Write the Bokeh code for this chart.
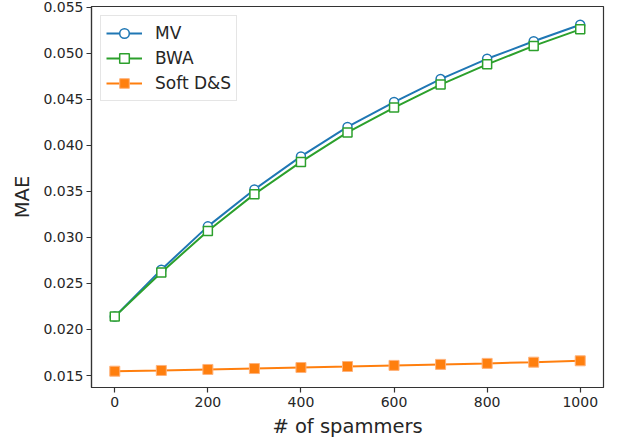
from bokeh.plotting import figure
from bokeh.models import Range1d, FixedTicker, NumeralTickFormatter
from bokeh.embed import file_html
from bokeh.resources import INLINE

spammers = [0, 100, 200, 300, 400, 500, 600, 700, 800, 900, 1000]
mv = [0.0214, 0.0265, 0.0312, 0.0352, 0.0388, 0.0420, 0.0447, 0.0472, 0.0494, 0.0513, 0.0531]
bwa = [0.0214, 0.0262, 0.0307, 0.0347, 0.0382, 0.0414, 0.0441, 0.0466, 0.0488, 0.0508, 0.0526]
soft_ds = [0.01547, 0.01555, 0.01566, 0.01576, 0.01587, 0.01598, 0.01610, 0.01621, 0.01632, 0.01645, 0.01660]
x_ticks = [0, 200, 400, 600, 800, 1000]
y_ticks = [0.015, 0.020, 0.025, 0.030, 0.035, 0.040, 0.045, 0.050, 0.055]

FONT = "DejaVu Sans"
TXT = "#262626"

p = figure(width=620, height=444, output_backend="svg", toolbar_location=None,
           x_range=Range1d(-50, 1050), y_range=Range1d(0.0137, 0.05508),
           min_border_left=91, min_border_right=17, min_border_top=6, min_border_bottom=57)

p.line(spammers, mv, color="#1f77b4", line_width=2, legend_label="MV")
p.scatter(spammers, mv, marker="circle", size=9, line_color="#1f77b4", fill_color="white",
          line_width=1.5, legend_label="MV")
p.line(spammers, bwa, color="#2ca02c", line_width=2, legend_label="BWA")
p.scatter(spammers, bwa, marker="square", size=9, line_color="#2ca02c", fill_color="white",
          line_width=1.5, legend_label="BWA")
p.line(spammers, soft_ds, color="#ff7f0e", line_width=2, legend_label="Soft D&S")
p.scatter(spammers, soft_ds, marker="square", size=10, line_color="#ffb27a", fill_color="#ff7f0e",
          line_width=1, legend_label="Soft D&S")

p.xgrid.visible = False
p.ygrid.visible = False
p.outline_line_color = "#333333"
p.outline_line_width = 1.2

p.xaxis.ticker = FixedTicker(ticks=x_ticks)
p.yaxis.ticker = FixedTicker(ticks=y_ticks)
p.yaxis.formatter = NumeralTickFormatter(format="0.000")
p.xaxis.axis_label = "# of spammers"
p.yaxis.axis_label = "MAE"
for ax in (p.xaxis, p.yaxis):
    ax.axis_line_color = "#333333"
    ax.axis_line_width = 1.2
    ax.major_tick_line_color = "#333333"
    ax.major_tick_line_width = 1.2
    ax.major_tick_out = 5
    ax.major_tick_in = 0
    ax.minor_tick_line_color = None
    ax.major_label_text_font = FONT
    ax.major_label_text_font_size = "14px"
    ax.major_label_text_color = TXT
    ax.axis_label_text_font = FONT
    ax.axis_label_text_font_size = "19.5px"
    ax.axis_label_text_font_style = "normal"
    ax.axis_label_text_color = TXT
p.yaxis.major_label_standoff = 3
p.xaxis.major_label_standoff = 4
p.yaxis.axis_label_standoff = 6
p.xaxis.axis_label_standoff = 5

lg = p.legend[0]
lg.location = "top_left"
lg.margin = 9
lg.padding = 5
lg.spacing = 1
lg.glyph_width = 36
lg.glyph_height = 24
lg.label_height = 24
lg.label_standoff = 13
lg.label_text_font = FONT
lg.label_text_font_size = "17px"
lg.label_text_color = TXT
lg.border_line_color = "#cccccc"
lg.border_line_width = 1
lg.background_fill_alpha = 0.8

open("out.html", "w").write(file_html(p, INLINE))
